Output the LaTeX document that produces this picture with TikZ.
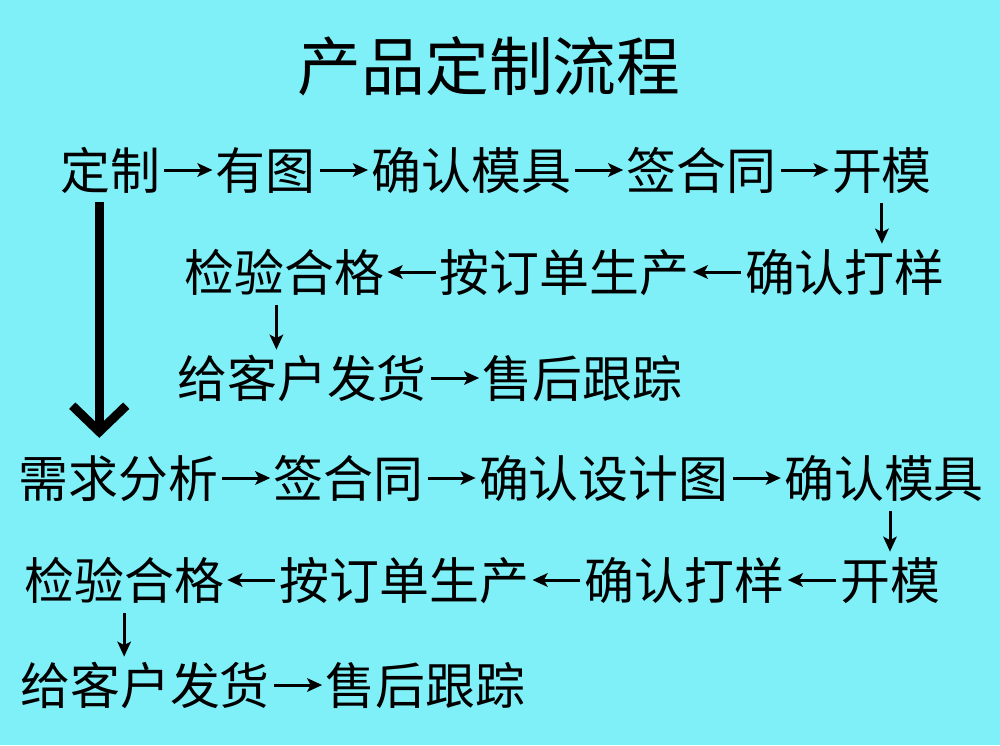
\documentclass[tikz,border=0pt]{standalone}
\usepackage{fontspec}
\newfontfamily\cjk{Noto Sans CJK SC}
\usetikzlibrary{positioning,arrows.meta}
\definecolor{slidebg}{RGB}{128,240,248}
\begin{document}
\begin{tikzpicture}[
      x=0.02cm, y=-0.02cm,
      font=\cjk\fontsize{28.4}{30}\selectfont,
      nodes={inner sep=0, text height=0.88cm, text depth=0.12cm},
      node distance=1.1cm,
      flow/.style={-{Stealth[length=0.3cm,width=0.27cm,inset=0.07cm]}, line width=0.06cm,
        shorten <=0.08cm, shorten >=0.06cm},
      down/.style={flow, shorten <=0.16cm},
      big/.style={line width=0.18cm}
    ]
      \fill[slidebg] (0,0) rectangle (1000,745);
      \useasboundingbox (0,0) rectangle (1000,745);

      \node (Title) at (489,66) [font=\cjk\fontsize{36.3}{40}\selectfont,
        text height=1.13cm, text depth=0.15cm] {产品定制流程};

      % first way
      \node (Custom) at (60,170) [anchor=west] {定制};
      \node (Drawing) [right=of Custom] {有图};
      \node (MoldOK) [right=of Drawing] {确认模具};
      \node (Contract) [right=of MoldOK] {签合同};
      \node (OpenMold) [right=of Contract] {开模};

      \node (Sample) at (945,272) [anchor=east] {确认打样};
      \node (Produce) [left=of Sample] {按订单生产};
      \node (Inspect) [left=of Produce] {检验合格};

      \node (Ship) at (177,378) [anchor=west] {给客户发货};
      \node (Service) [right=of Ship] {售后跟踪};

      % second way
      \node (Demand) at (18,478) [anchor=west] {需求分析};
      \node (Contract2) [right=of Demand] {签合同};
      \node (Design) [right=of Contract2] {确认设计图};
      \node (MoldOK2) [right=of Design] {确认模具};

      \node (Inspect2) at (24,580) [anchor=west] {检验合格};
      \node (Produce2) [right=of Inspect2] {按订单生产};
      \node (Sample2) [right=of Produce2] {确认打样};
      \node (OpenMold2) [right=of Sample2] {开模};

      \node (Ship2) at (20,685) [anchor=west] {给客户发货};
      \node (Service2) [right=of Ship2] {售后跟踪};

      \foreach \a/\b in {Custom/Drawing, Drawing/MoldOK, MoldOK/Contract, Contract/OpenMold,
          Sample/Produce, Produce/Inspect, Ship/Service,
          Demand/Contract2, Contract2/Design, Design/MoldOK2,
          OpenMold2/Sample2, Sample2/Produce2, Produce2/Inspect2, Ship2/Service2}
        \draw[flow] (\a) -- (\b);

      \draw[down] (OpenMold.south) -- (OpenMold.south |- Sample.north);
      \draw[down] ([xshift=-0.16cm]Inspect.south) -- ([xshift=-0.16cm]Inspect.south |- Ship.north);
      \draw[down] (OpenMold2.north |- MoldOK2.south) -- (OpenMold2.north);
      \draw[down] (Inspect2.south) -- (Inspect2.south |- Ship2.north);

      \draw[big] ([xshift=-0.22cm,yshift=-0.14cm]Custom.south)
        -- ([xshift=-0.22cm,yshift=0.42cm]Custom.south |- Demand.north) coordinate (BigTip);
      \draw[big] ([shift={(-27,-26)}]BigTip) -- (BigTip) -- ([shift={(27,-26)}]BigTip);
    \end{tikzpicture}
\end{document}
